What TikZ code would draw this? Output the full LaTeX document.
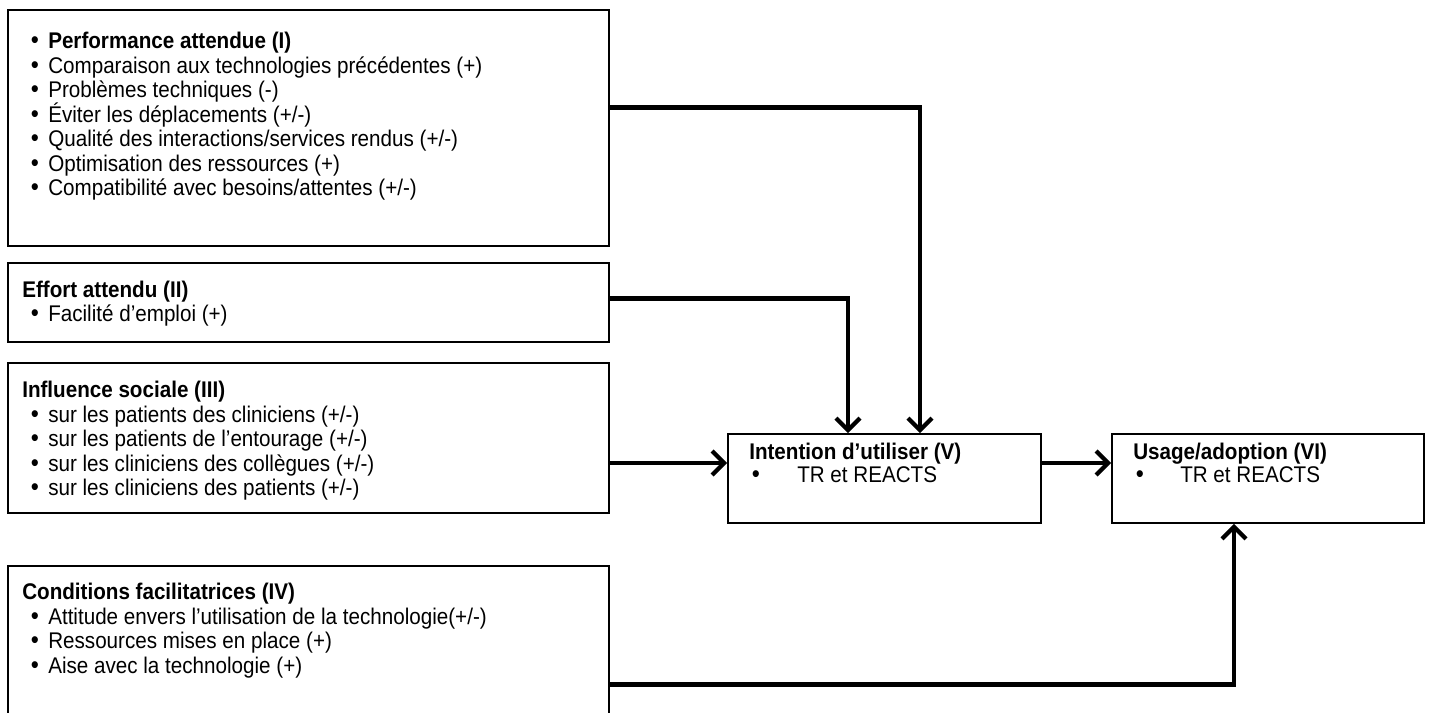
\documentclass[tikz,border=0pt]{standalone}
\usepackage{fontspec}
\setmainfont{Liberation Sans}[FakeStretch=0.91]
\usetikzlibrary{arrows.meta,calc,fit}
\newcommand{\fsz}{\fontsize{17}{19}\selectfont}
\begin{document}
\begin{tikzpicture}[x=0.75pt,y=-0.75pt,
  box/.style={draw, line width=1.3pt, inner sep=0pt},
  conn/.style={line width=3.6pt, -{Straight Barb[length=9pt,width=18pt,line width=3.2pt]}},
  txt/.style={anchor=base west, inner sep=0pt, font=\fsz},
  hd/.style={txt, font=\fsz\bfseries},
  bul/.style={anchor=base, inner sep=0pt, font=\fontsize{19}{19}\selectfont}]
\useasboundingbox (0,0) rectangle (1429,713);
\clip (0,0) rectangle (1429,713);
% boxes
\node[box, fit={(8,10)(609,246)}] (I) {};
\node[box, fit={(8,263)(609,342)}] (II) {};
\node[box, fit={(8,363)(609,513)}] (III) {};
\node[box, fit={(8,566)(609,740)}] (IV) {};
\node[box, fit={(728,434)(1041,523)}] (V) {};
\node[box, fit={(1112,434)(1424,523)}] (VI) {};
% box I
\foreach \y/\n in {49/a,74/b,98/c,123/d,147/e,172/f,196/g}{\node[bul] (bI\n) at (35,\y) {•};}
\node[hd] (tIa) at (48,49) {Performance attendue (I)};
\node[txt] (tIb) at (48,74) {Comparaison aux technologies précédentes (+)};
\node[txt] (tIc) at (48,98) {Problèmes techniques (-)};
\node[txt] (tId) at (48,123) {Éviter les déplacements (+/-)};
\node[txt] (tIe) at (48,147) {Qualité des interactions/services rendus (+/-)};
\node[txt] (tIf) at (48,172) {Optimisation des ressources (+)};
\node[txt] (tIg) at (48,196) {Compatibilité avec besoins/attentes (+/-)};
% box II
\node[hd] (tIIh) at (22,297) {Effort attendu (II)};
\node[bul] (bIIa) at (35,321) {•};
\node[txt] (tIIa) at (48,321) {Facilité d’emploi (+)};
% box III
\node[hd] (tIIIh) at (22,397) {Influence sociale (III)};
\foreach \y/\n in {422/a,446/b,471/c,495/d}{\node[bul] (bIII\n) at (35,\y) {•};}
\node[txt] (tIIIa) at (48,422) {sur les patients des cliniciens (+/-)};
\node[txt] (tIIIb) at (48,446) {sur les patients de l’entourage (+/-)};
\node[txt] (tIIIc) at (48,471) {sur les cliniciens des collègues (+/-)};
\node[txt] (tIIId) at (48,495) {sur les cliniciens des patients (+/-)};
% box IV
\node[hd] (tIVh) at (22,599) {Conditions facilitatrices (IV)};
\foreach \y/\n in {624/a,648/b,673/c}{\node[bul] (bIV\n) at (35,\y) {•};}
\node[txt] (tIVa) at (48,624) {Attitude envers l’utilisation de la technologie(+/-)};
\node[txt] (tIVb) at (48,648) {Ressources mises en place (+)};
\node[txt] (tIVc) at (48,673) {Aise avec la technologie (+)};
% box V
\node[hd] (tVh) at (749,459) {Intention d’utiliser (V)};
\node[bul] (bVa) at (756,482) {•};
\node[txt] (tVa) at (797,482) {TR et REACTS};
% box VI
\node[hd] (tVIh) at (1133,459) {Usage/adoption (VI)};
\node[bul] (bVIa) at (1140,482) {•};
\node[txt] (tVIa) at (1180,482) {TR et REACTS};
% connectors
\draw[conn] ($(I.north east)+(0,98)$) -| ($(V.north)+(35.5,0)$);
\draw[conn] ($(II.north east)+(0,36)$) -| ($(V.north)+(-36.5,0)$);
\coordinate (vin) at ($(V.west)+(0,-15.5)$);
\draw[conn] (III.east |- vin) -- (vin);
\coordinate (vout) at ($(V.east)+(0,-15.5)$);
\draw[conn] (vout) -- (VI.west |- vout);
\draw[conn] ($(IV.north east)+(0,119)$) -| ($(VI.south)+(-34,0)$);
\end{tikzpicture}
\end{document}
